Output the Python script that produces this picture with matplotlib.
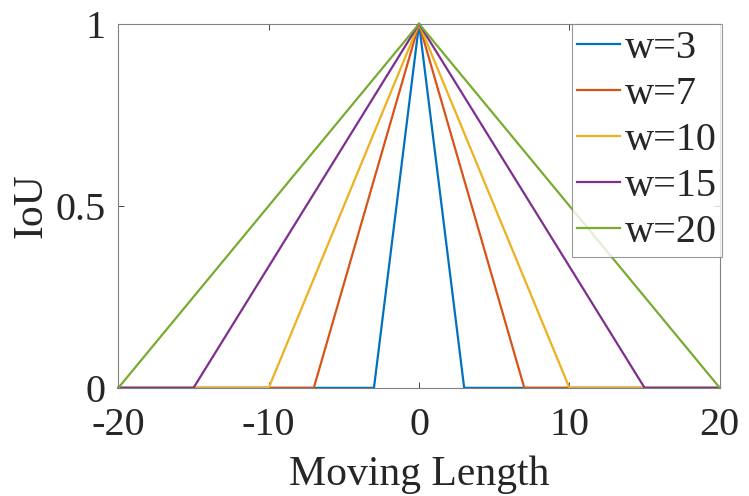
import matplotlib
matplotlib.use("Agg")
import matplotlib.pyplot as plt

plt.rcParams['font.family'] = ['Liberation Serif', 'DejaVu Serif']
plt.rcParams['axes.unicode_minus'] = False

# data: piecewise-linear IoU curves for each window size
moving_w3 = [-20, -3, 0, 3, 20]
iou_w3 = [0, 0, 1, 0, 0]
moving_w7 = [-20, -7, 0, 7, 20]
iou_w7 = [0, 0, 1, 0, 0]
moving_w10 = [-20, -10, 0, 10, 20]
iou_w10 = [0, 0, 1, 0, 0]
moving_w15 = [-20, -15, 0, 15, 20]
iou_w15 = [0, 0, 1, 0, 0]
moving_w20 = [-20, 0, 20]
iou_w20 = [0, 1, 0]
labels = ['w=3', 'w=7', 'w=10', 'w=15', 'w=20']
colors = ['#0072BD', '#D95319', '#EDB120', '#7E2F8E', '#77AC30']
xticks = [-20, -10, 0, 10, 20]
xtick_labels = ['-20', '-10', '0', '10', '20']
yticks = [0, 0.5, 1]
ytick_labels = ['0', '0.5', '1']

fig = plt.figure(figsize=(7.49, 4.96), dpi=100)
ax = fig.add_axes([0.158, 0.218, 0.803, 0.734])

series = [(moving_w3, iou_w3), (moving_w7, iou_w7), (moving_w10, iou_w10),
          (moving_w15, iou_w15), (moving_w20, iou_w20)]
for (x, y), lab, c in zip(series, labels, colors):
    ax.plot(x, y, color=c, lw=1.6, label=lab, clip_on=False)

ax.set_xlim(-20, 20)
ax.set_ylim(0, 1)
ax.set_xticks(xticks)
ax.set_xticklabels(xtick_labels)
ax.set_yticks(yticks)
ax.set_yticklabels(ytick_labels)
ax.tick_params(direction='in', length=4, width=0.6, labelsize=29, colors='#262626',
               top=True, right=True)
ax.tick_params(axis='x', pad=14)
ax.tick_params(axis='y', pad=9)
for s in ax.spines.values():
    s.set_color('#808080')
    s.set_linewidth(0.8)
ax.set_xlabel('Moving Length', fontsize=30, labelpad=8, color='#262626')
ax.set_ylabel('IoU', fontsize=30, labelpad=4, color='#262626')

leg = ax.legend(loc='upper right', fontsize=29, frameon=True, fancybox=False,
                edgecolor='#808080', handlelength=1.05, handletextpad=0.12,
                borderpad=0.14, labelspacing=0.22, borderaxespad=0.0,
                bbox_to_anchor=(1.004, 1.0))
leg.get_frame().set_linewidth(0.8)
for t in leg.get_texts():
    t.set_color('#262626')

fig.savefig('out.png', dpi=100)
